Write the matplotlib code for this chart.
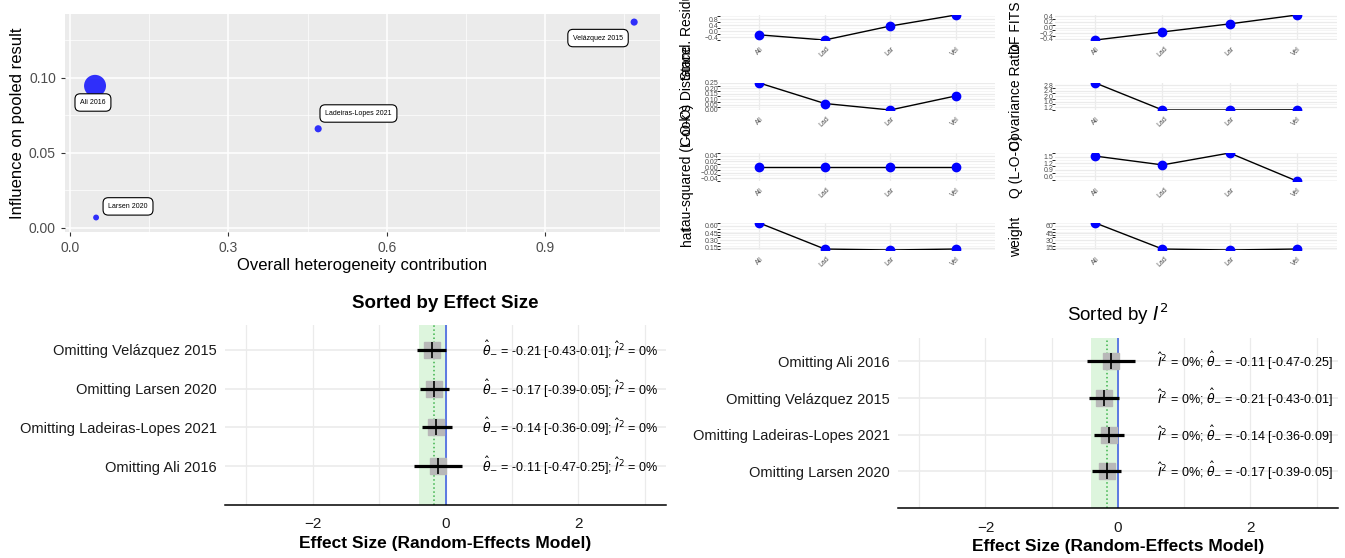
import numpy as np
import matplotlib
matplotlib.use("Agg")
import matplotlib.pyplot as plt
from matplotlib.ticker import MaxNLocator, FixedLocator

plt.rcParams['font.family'] = ['Liberation Sans', 'DejaVu Sans']
narrow = ['Liberation Sans Narrow', 'Liberation Sans', 'DejaVu Sans']

studies = ["Ali 2016", "Ladeiras-Lopes 2021", "Larsen 2020", "Velázquez 2015"]
short = ["All", "Lad", "Lar", "Vel"]

# Baujat plot
het_contrib = [0.047, 0.47, 0.049, 1.069]
influence = [0.0947, 0.066, 0.0067, 0.1373]

# influence diagnostics
stand_resid = [-0.25, -0.6, 0.35, 1.1]
dffits = [-0.45, -0.16, 0.13, 0.45]
cooks_d = [0.25, 0.06, 0.0, 0.13]
cov_ratio = [2.95, 1.0, 1.0, 1.01]
tau2_loo = [0.0, 0.0, 0.0, 0.0]
q_loo = [1.52, 1.12, 1.66, 0.39]
hat = [0.66, 0.12, 0.10, 0.12]
weight = [66.0, 12.0, 10.0, 12.0]

# leave-one-out results
loo_est = [-0.11, -0.14, -0.17, -0.21]
loo_lower = [-0.47, -0.36, -0.39, -0.43]
loo_upper = [0.25, 0.09, 0.05, 0.01]
loo_i2 = [0, 0, 0, 0]
pooled_est = -0.17
pooled_ci = (-0.40, -0.01)

order_es = [0, 1, 2, 3]          # bottom -> top (Ali ... Velázquez)
order_i2 = [2, 1, 3, 0]          # bottom -> top (Larsen ... Ali)

fig = plt.figure(figsize=(13.45, 5.58), dpi=100)

# ---------------- Baujat plot ----------------
ax = fig.add_axes([0.0483, 0.5842, 0.4424, 0.3907])
ax.set_facecolor('#EBEBEB')
w = np.array(weight)
sizes = 18 + (w - w.min()) / (w.max() - w.min()) * (250 - 18)
ax.scatter(het_contrib, influence, s=sizes, color='#0000FF', alpha=0.8, lw=0, zorder=3)
offsets = [(-1.5, -12), (29, 11), (23, 8), (-26, -11.5)]
for i, name in enumerate(studies):
    ax.annotate(name, (het_contrib[i], influence[i]), xytext=offsets[i],
                textcoords='offset points', ha='center', va='center', fontsize=5,
                bbox=dict(boxstyle='round,pad=0.75', fc='white', ec='black', lw=0.8), zorder=4)
ax.set_xlim(-0.01, 1.118)
ax.set_ylim(-0.003, 0.1427)
ax.set_xticks([0, 0.3, 0.6, 0.9])
ax.set_xticklabels(["0.0", "0.3", "0.6", "0.9"])
ax.set_yticks([0, 0.05, 0.10])
ax.set_yticklabels(["0.00", "0.05", "0.10"])
ax.xaxis.set_minor_locator(FixedLocator([0.15, 0.45, 0.75, 1.05]))
ax.yaxis.set_minor_locator(FixedLocator([0.025, 0.075, 0.125]))
ax.grid(which='major', color='white', lw=1.1)
ax.grid(which='minor', color='white', lw=0.5)
ax.set_axisbelow(True)
for s in ax.spines.values():
    s.set_visible(False)
ax.tick_params(which='major', length=3, color='#333333', labelcolor='#4D4D4D', labelsize=10)
ax.tick_params(which='minor', length=0)
ax.set_xlabel("Overall heterogeneity contribution", fontsize=12, labelpad=2)
ax.set_ylabel("Influence on pooled result", fontsize=12, labelpad=3)

# ---------------- diagnostic panels ----------------
rows = [(0.9283, 0.0448), (0.8029, 0.0484), (0.6756, 0.0502), (0.552, 0.0484)]
cols = [(0.5353, 0.2045, -0.095), (0.7844, 0.2097, -0.115)]
panels = [
    [(stand_resid, "Stand. Residuals"), (dffits, "DF FITS")],
    [(cooks_d, "Cook's Distance"), (cov_ratio, "Covariance Ratio")],
    [(tau2_loo, "tau-squared (L-O-O)"), (q_loo, "Q (L-O-O)")],
    [(hat, "hat"), (weight, "weight")],
]
xpos = np.arange(1, 5)
for r, (bot, h) in enumerate(rows):
    for c, (left, wd, lx) in enumerate(cols):
        vals, lab = panels[r][c]
        a = fig.add_axes([left, bot, wd, h])
        a.plot(xpos, vals, color='black', lw=1)
        a.plot(xpos, vals, 'o', color='#0000FF', ms=6)
        lo, hi = min(vals), max(vals)
        if lo == hi:
            lo, hi = lo - 0.05, hi + 0.05
        a.set_ylim(lo, hi)
        a.set_xlim(0.4, 4.6)
        a.set_xticks(xpos)
        a.set_xticklabels(short, rotation=45, fontsize=5.5, color='#4D4D4D')
        a.yaxis.set_major_locator(MaxNLocator(nbins=5))
        a.yaxis.set_minor_locator(MaxNLocator(nbins=10))
        a.grid(which='major', color='#EBEBEB', lw=0.9)
        a.grid(which='minor', color='#F2F2F2', lw=0.5)
        a.set_axisbelow(True)
        for s in a.spines.values():
            s.set_visible(False)
        a.tick_params(length=0, labelsize=5, labelcolor='#4D4D4D', pad=1)
        a.tick_params(axis='x', pad=4)
        a.set_ylabel(lab, fontsize=10)
        a.yaxis.set_label_coords(lx, 0.5)


# ---------------- leave-one-out forest plots ----------------
def forest(rect, order, i2_first):
    a = fig.add_axes(rect)
    y = np.arange(1, len(order) + 1)
    est = [loo_est[i] for i in order]
    lo = [loo_lower[i] for i in order]
    hi = [loo_upper[i] for i in order]
    a.axvspan(pooled_ci[0], pooled_ci[1], color='#DDF5DD', zorder=1, lw=0)
    a.axvline(pooled_est, color='#3CB34A', ls=':', lw=1.1, zorder=2)
    a.axvline(0, color='#4F6FE0', lw=1.3, zorder=2)
    a.plot(est, y, 's', color='#B8B8B8', ms=12, zorder=3)
    a.hlines(y, lo, hi, color='black', lw=2.3, zorder=4)
    a.plot(est, y, '|', color='black', ms=12, mew=1.2, zorder=5)
    for k, i in enumerate(order):
        ci = f"{loo_est[i]:.2f} [{loo_lower[i]:.2f}-{loo_upper[i]:.2f}]"
        if i2_first:
            txt = r"$\hat{I}^2$" + f" = {loo_i2[i]}%; " + r"$\hat{\theta}_{-}$" + f" = {ci}"
            xt = 0.59
        else:
            txt = r"$\hat{\theta}_{-}$" + f" = {ci}; " + r"$\hat{I}^2$" + f" = {loo_i2[i]}%"
            xt = 0.55
        a.text(xt, y[k], txt, fontsize=9, va='center', ha='left', family=narrow)
    a.set_xlim(-3.32, 3.32)
    a.set_ylim(0, 4.64)
    a.set_yticks(y)
    a.set_yticklabels(["Omitting " + studies[i] for i in order], fontsize=10.5,
                      family=narrow, color='#1A1A1A')
    a.set_xticks([-2, 0, 2])
    a.xaxis.set_minor_locator(FixedLocator([-3, -1, 1, 3]))
    a.grid(axis='x', which='both', color='#EBEBEB', lw=0.9)
    a.grid(axis='y', color='#EBEBEB', lw=1.2)
    a.set_axisbelow(True)
    for s in ['top', 'right', 'left']:
        a.spines[s].set_visible(False)
    a.spines['bottom'].set_color('black')
    a.spines['bottom'].set_linewidth(1.1)
    a.tick_params(which='both', length=0)
    a.tick_params(axis='x', labelsize=11, labelcolor='#1A1A1A', pad=9)
    a.tick_params(axis='y', pad=6)
    a.set_xlabel("Effect Size (Random-Effects Model)", fontsize=12.5, fontweight='bold', labelpad=3)
    return a


a1 = forest([0.1673, 0.095, 0.3279, 0.3226], order_es, False)
a1.set_title("Sorted by Effect Size", fontsize=13.5, fontweight='bold', pad=12)
a2 = forest([0.6677, 0.0896, 0.327, 0.3047], order_i2, True)
a2.set_title(r"Sorted by $I^2$", fontsize=13.5, pad=12)

fig.savefig("out.png", dpi=100, facecolor='white')
